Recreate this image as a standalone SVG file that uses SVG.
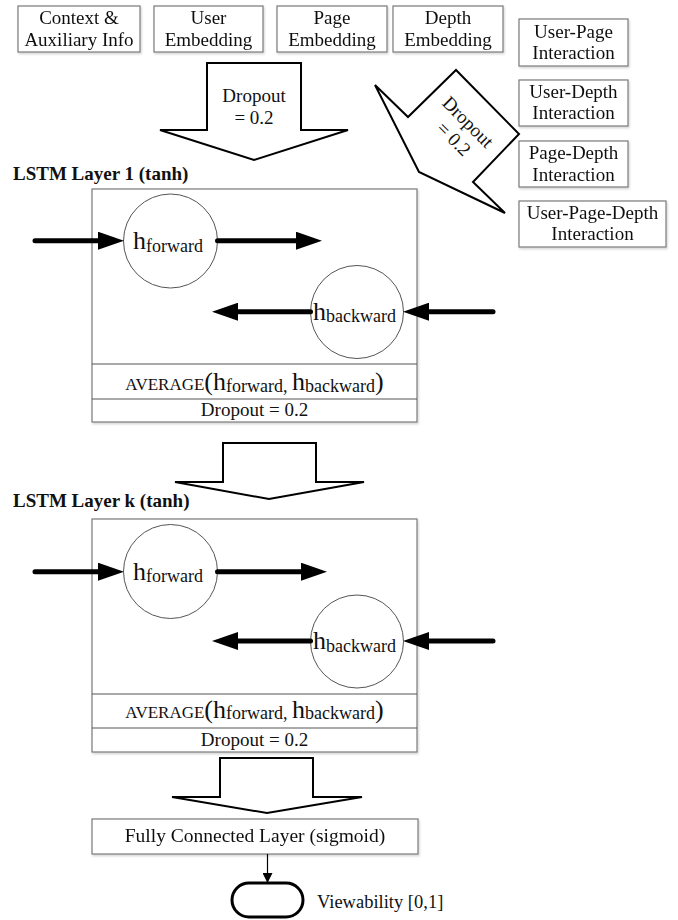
<svg xmlns="http://www.w3.org/2000/svg" width="678" height="920" viewBox="0 0 678 920">
  <style>
    text { font-family: "Liberation Serif", "Times New Roman", serif; fill: #111; }
    .lbl { font-size: 19px; text-anchor: middle; }
    .title { font-size: 19px; font-weight: bold; }
    .box { fill: #fff; stroke: #7a7a7a; stroke-width: 1.2; }
    .row { fill: #fff; stroke: #555; stroke-width: 1.2; }
    .cell { fill: #fff; stroke: #555; stroke-width: 1; }
    .block { fill: #fff; stroke: #000; stroke-width: 2; stroke-linejoin: miter; }
    .thick { stroke: #000; stroke-width: 5; stroke-linecap: round; fill: none; }
    .thin { stroke: #000; stroke-width: 1.2; fill: none; }
    .big { font-size: 26px; }
    .sub { font-size: 18px; }
  </style>
  <defs>
    <filter id="shade" x="-5%" y="-5%" width="115%" height="120%">
      <feDropShadow dx="1" dy="1.5" stdDeviation="1" flood-color="#000" flood-opacity="0.18"/>
    </filter>
    <marker id="head" markerUnits="userSpaceOnUse" markerWidth="26" markerHeight="18" refX="6" refY="9" orient="auto">
      <path d="M0,0 L26,9 L0,18 z" fill="#000"/>
    </marker>
    <marker id="small" markerUnits="userSpaceOnUse" markerWidth="10" markerHeight="10" refX="9" refY="5" orient="auto">
      <path d="M0,0 L10,5 L0,10 z" fill="#000"/>
    </marker>
  </defs>

  <!-- input feature boxes -->
  <g id="context" filter="url(#shade)">
    <rect class="box" x="18" y="6" width="122" height="46"/>
    <text class="lbl" x="79" y="24">Context &amp;</text>
    <text class="lbl" x="79" y="45.5">Auxiliary Info</text>
  </g>
  <g id="user-emb" filter="url(#shade)">
    <rect class="box" x="154" y="6" width="109" height="46"/>
    <text class="lbl" x="208.5" y="24">User</text>
    <text class="lbl" x="208.5" y="45.5">Embedding</text>
  </g>
  <g id="page-emb" filter="url(#shade)">
    <rect class="box" x="277" y="6" width="110" height="46"/>
    <text class="lbl" x="332" y="24">Page</text>
    <text class="lbl" x="332" y="45.5">Embedding</text>
  </g>
  <g id="depth-emb" filter="url(#shade)">
    <rect class="box" x="393" y="6" width="110" height="46"/>
    <text class="lbl" x="448" y="24">Depth</text>
    <text class="lbl" x="448" y="45.5">Embedding</text>
  </g>

  <!-- interaction boxes -->
  <g id="user-page" filter="url(#shade)">
    <rect class="box" x="519" y="19" width="109" height="47"/>
    <text class="lbl" x="573.5" y="37.5">User-Page</text>
    <text class="lbl" x="573.5" y="59">Interaction</text>
  </g>
  <g id="user-depth" filter="url(#shade)">
    <rect class="box" x="519" y="80" width="109" height="46"/>
    <text class="lbl" x="573.5" y="97.5">User-Depth</text>
    <text class="lbl" x="573.5" y="119">Interaction</text>
  </g>
  <g id="page-depth" filter="url(#shade)">
    <rect class="box" x="519" y="141" width="109" height="46"/>
    <text class="lbl" x="573.5" y="159">Page-Depth</text>
    <text class="lbl" x="573.5" y="180.5">Interaction</text>
  </g>
  <g id="user-page-depth" filter="url(#shade)">
    <rect class="box" x="519" y="201" width="147" height="46"/>
    <text class="lbl" x="592.5" y="218.5">User-Page-Depth</text>
    <text class="lbl" x="592.5" y="239.5">Interaction</text>
  </g>

  <!-- block arrows -->
  <g id="dropout-in">
    <path class="block" d="M207,63 H301 V130 H348 L254,160 L160,130 H207 Z"/>
    <text class="lbl" x="254" y="102">Dropout</text>
    <text class="lbl" x="254" y="123.5">= 0.2</text>
  </g>
  <g id="dropout-interaction">
    <path class="block" d="M375,85 L408,117 L456,70 L519,134 L473,182 L505,213 L419,172 Z"/>
    <g transform="translate(460,130) rotate(45)">
      <text class="lbl" x="0" y="-5">Dropout</text>
      <text class="lbl" x="2" y="17">= 0.2</text>
    </g>
  </g>

  <!-- LSTM layer 1 -->
  <g id="lstm-1">
    <text class="title" x="13" y="180">LSTM Layer 1 (tanh)</text>
    <g filter="url(#shade)">
      <rect class="box" x="92" y="189" width="325" height="233"/>
    </g>
    <line class="row" x1="92" y1="364" x2="417" y2="364"/>
    <line class="row" x1="92" y1="399" x2="417" y2="399"/>
    <circle class="cell" cx="170.5" cy="241" r="47"/>
    <circle class="cell" cx="357" cy="312" r="46.5"/>
    <text x="133" y="249"><tspan class="big">h</tspan><tspan class="sub" dy="2.5">forward</tspan></text>
    <text x="313" y="319.5"><tspan class="big">h</tspan><tspan class="sub" dy="2.5">backward</tspan></text>
    <text x="254.5" y="390" text-anchor="middle"><tspan style="font-size:17px">AVERAGE</tspan><tspan class="big">(h</tspan><tspan class="sub" dy="1.5">forward</tspan><tspan class="sub">, </tspan><tspan class="big" dy="-1.5">h</tspan><tspan class="sub" dy="1.5">backward</tspan><tspan class="big" dy="-1.5">)</tspan></text>
    <text class="lbl" x="254.5" y="416">Dropout = 0.2</text>
  </g>

  <g id="layer-link">
    <path class="block" d="M223,443 H316 V482 H364 L269,499 L175,482 H223 Z"/>
  </g>

  <!-- LSTM layer k -->
  <g id="lstm-k">
    <text class="title" x="13" y="507">LSTM Layer k (tanh)</text>
    <g filter="url(#shade)">
      <rect class="box" x="92" y="519" width="325" height="233"/>
    </g>
    <line class="row" x1="92" y1="694" x2="417" y2="694"/>
    <line class="row" x1="92" y1="728" x2="417" y2="728"/>
    <circle class="cell" cx="170.5" cy="571.5" r="47"/>
    <circle class="cell" cx="357" cy="641.5" r="46.5"/>
    <text x="133" y="579.5"><tspan class="big">h</tspan><tspan class="sub" dy="2.5">forward</tspan></text>
    <text x="313" y="649"><tspan class="big">h</tspan><tspan class="sub" dy="2.5">backward</tspan></text>
    <text x="254.5" y="717.5" text-anchor="middle"><tspan style="font-size:17px">AVERAGE</tspan><tspan class="big">(h</tspan><tspan class="sub" dy="1.5">forward</tspan><tspan class="sub">, </tspan><tspan class="big" dy="-1.5">h</tspan><tspan class="sub" dy="1.5">backward</tspan><tspan class="big" dy="-1.5">)</tspan></text>
    <text class="lbl" x="254.5" y="746">Dropout = 0.2</text>
  </g>

  <g id="output-link">
    <path class="block" d="M220,758 H313 V797 H362 L267,813 L172,797 H220 Z"/>
  </g>

  <g id="fc" filter="url(#shade)">
    <rect class="box" x="92" y="819" width="326" height="35"/>
    <text class="lbl" x="255" y="842" style="font-size:19.5px">Fully Connected Layer (sigmoid)</text>
  </g>

  <g id="viewability">
    <rect x="232" y="883" width="71" height="34" rx="17" ry="17" fill="#fff" stroke="#000" stroke-width="3"/>
    <text x="317" y="908" style="font-size:18.5px">Viewability [0,1]</text>
  </g>

  <!-- recurrent connections -->
  <g id="connectors">
    <line class="thick" x1="35" y1="240.7" x2="104" y2="240.7" marker-end="url(#head)"/>
    <line class="thick" x1="217.5" y1="240.7" x2="302" y2="240.7" stroke-linecap="butt" marker-end="url(#head)"/>
    <line class="thick" x1="493" y1="311.7" x2="423" y2="311.7" marker-end="url(#head)"/>
    <line class="thick" x1="310.5" y1="311.7" x2="232" y2="311.7" stroke-linecap="butt" marker-end="url(#head)"/>

    <line class="thick" x1="35" y1="571.7" x2="104" y2="571.7" marker-end="url(#head)"/>
    <line class="thick" x1="217.5" y1="571.7" x2="307" y2="571.7" stroke-linecap="butt" marker-end="url(#head)"/>
    <line class="thick" x1="493" y1="641" x2="423" y2="641" marker-end="url(#head)"/>
    <line class="thick" x1="310.5" y1="641" x2="232" y2="641" stroke-linecap="butt" marker-end="url(#head)"/>

    <line class="thin" x1="267.5" y1="854" x2="267.5" y2="882" marker-end="url(#small)"/>
  </g>
</svg>
